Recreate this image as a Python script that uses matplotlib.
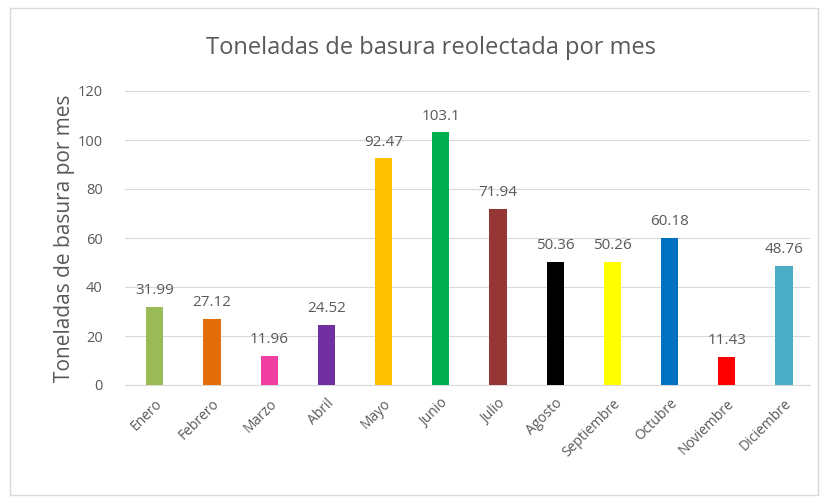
import matplotlib
matplotlib.use("Agg")
import matplotlib.pyplot as plt
from matplotlib.patches import Rectangle

MESES = ["Enero", "Febrero", "Marzo", "Abril", "Mayo", "Junio", "Julio",
         "Agosto", "Septiembre", "Octubre", "Noviembre", "Diciembre"]
TONELADAS = [31.99, 27.12, 11.96, 24.52, 92.47, 103.1, 71.94,
             50.36, 50.26, 60.18, 11.43, 48.76]
COLORES = ["#9BBB59", "#E36C09", "#F03FA0", "#7030A0", "#FFC000", "#00B050",
           "#953735", "#000000", "#FFFF00", "#0070C0", "#FF0000", "#4BACC6"]
ETIQUETAS = ["31.99", "27.12", "11.96", "24.52", "92.47", "103.1", "71.94",
             "50.36", "50.26", "60.18", "11.43", "48.76"]

GRIS = "#595959"
plt.rcParams["font.family"] = ["Open Sans", "DejaVu Sans"]

fig = plt.figure(figsize=(8.28, 5.0), dpi=100)
fig.patches.append(Rectangle((0.012, 0.01), 0.976, 0.975, transform=fig.transFigure,
                             fill=False, edgecolor="#D9D9D9", lw=1))
ax = fig.add_axes([0.151, 0.23, 0.827, 0.588])

x = range(len(MESES))
ax.bar(x, TONELADAS, width=0.3, color=COLORES, zorder=3)
for i, (v, t) in enumerate(zip(TONELADAS, ETIQUETAS)):
    ax.text(i, v + 3.5, t, ha="center", va="bottom", fontsize=11, color=GRIS)

ax.set_xlim(-0.52, 11.45)
ax.set_ylim(0, 120)
ax.set_yticks(range(0, 121, 20))
ax.tick_params(axis="y", length=0, labelsize=10.5, labelcolor=GRIS, pad=16)
ax.set_xticks(list(x), MESES, rotation=45, ha="right", rotation_mode="anchor",
              fontsize=10, color=GRIS)
ax.tick_params(axis="x", length=0, pad=8)
ax.grid(axis="y", color="#D9D9D9", lw=0.8, zorder=0)
for s in ("top", "right", "left"):
    ax.spines[s].set_visible(False)
ax.spines["bottom"].set_color("#D9D9D9")

ax.set_ylabel("Toneladas de basura por mes", fontsize=15, color=GRIS, labelpad=2)
fig.text(0.52, 0.905, "Toneladas de basura reolectada por mes", ha="center",
         va="center", fontsize=17, color=GRIS)

fig.savefig("out.png", dpi=100)
